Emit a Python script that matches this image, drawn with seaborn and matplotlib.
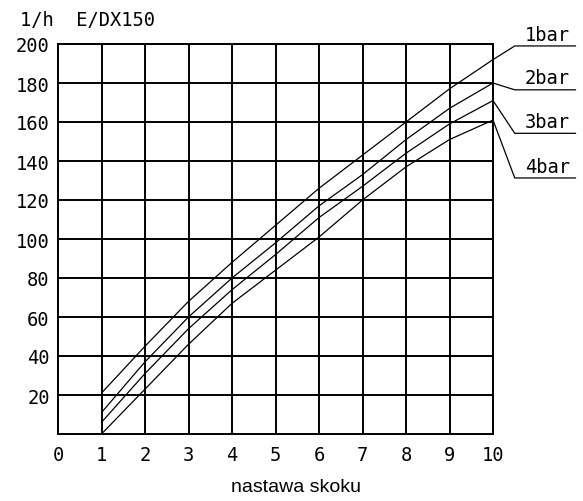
import numpy as np
import pandas as pd
import matplotlib
matplotlib.use("Agg")
import matplotlib.pyplot as plt
import seaborn as sns

# ---- data ----
stroke = [1, 2, 3, 4, 5, 6, 7, 8, 9, 10]
bar1 = [21, 45, 68, 88, 107, 126, 143, 160, 177, 192]
bar2 = [11, 37, 60, 80, 98, 117, 133, 151, 167, 180]
bar3 = [6, 31, 54, 74, 92, 111, 127, 144, 159, 171]
bar4 = [0, 23, 46, 67, 84, 101, 120, 137, 151, 161]
series_names = ["1bar", "2bar", "3bar", "4bar"]
x_ticks = [0, 1, 2, 3, 4, 5, 6, 7, 8, 9, 10]
y_ticks = [20, 40, 60, 80, 100, 120, 140, 160, 180, 200]
title_text = "1/h  E/DX150"
xlabel_text = "nastawa skoku"

df = pd.concat([
    pd.DataFrame({"x": stroke, "y": vals, "p": name})
    for name, vals in zip(series_names, [bar1, bar2, bar3, bar4])
])

sns.set_style("white")
plt.rcParams["font.family"] = ["DejaVu Sans Mono", "DejaVu Sans"]
plt.rcParams["text.color"] = "black"
plt.rcParams["xtick.color"] = "black"
plt.rcParams["ytick.color"] = "black"

FS = 13.5
fig = plt.figure(figsize=(5.83, 5.02), dpi=100)
ax = fig.add_axes([58 / 583, 1 - 435 / 502, 435 / 583, 390 / 502])

sns.lineplot(data=df, x="x", y="y", hue="p", palette=["black"] * 4,
             linewidth=0.9, legend=False, ax=ax, sort=True)

ax.set_xlim(0, 10)
ax.set_ylim(0, 200)
ax.set_xticks(x_ticks)
ax.set_yticks(y_ticks)
ax.set_xticklabels([str(t) for t in x_ticks], fontsize=FS, color="black")
ax.set_yticklabels([str(t) for t in y_ticks], fontsize=FS, color="black")
ax.tick_params(axis="both", length=0)
ax.tick_params(axis="x", pad=8)
ax.tick_params(axis="y", pad=6)
ax.grid(True, color="black", linewidth=1.4)
ax.set_axisbelow(True)
for s in ax.spines.values():
    s.set_visible(True)
    s.set_color("black")
    s.set_linewidth(1.4)
ax.set_xlabel("")
ax.set_ylabel("")

# leader lines + underlined labels on the right
label_y = [199, 176.5, 154.2, 131.3]     # label underline heights in data units
elbow_x = 10.5
end_x = 11.9
for name, vals, ly in zip(series_names, [bar1, bar2, bar3, bar4], label_y):
    ax.plot([stroke[-1], elbow_x, end_x], [vals[-1], ly, ly], color="black",
            linewidth=0.9, clip_on=False)
    ax.text((elbow_x + end_x) / 2 + 0.05, ly + 1.2, name, ha="center",
            va="bottom", fontsize=FS, color="black", clip_on=False)

fig.text(20 / 583, 1 - 21 / 502, title_text, ha="left", va="center",
         fontsize=FS, color="black")
fig.text(296 / 583, 1 - 488 / 502, xlabel_text, ha="center", va="center",
         fontsize=14, family="Liberation Sans", color="black")

fig.savefig("out.png", dpi=100)
